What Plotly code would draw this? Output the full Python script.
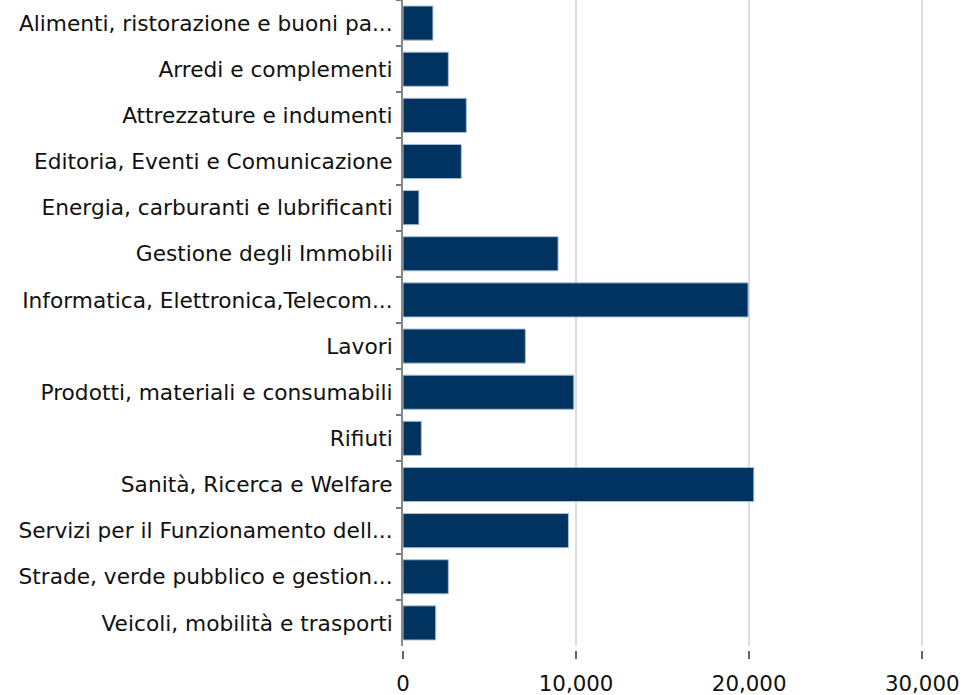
import plotly.graph_objects as go

categories = [
    "Alimenti, ristorazione e buoni pa...",
    "Arredi e complementi",
    "Attrezzature e indumenti",
    "Editoria, Eventi e Comunicazione",
    "Energia, carburanti e lubrificanti",
    "Gestione degli Immobili",
    "Informatica, Elettronica,Telecom...",
    "Lavori",
    "Prodotti, materiali e consumabili",
    "Rifiuti",
    "Sanità, Ricerca e Welfare",
    "Servizi per il Funzionamento dell...",
    "Strade, verde pubblico e gestion...",
    "Veicoli, mobilità e trasporti",
]
values = [1730, 2620, 3660, 3370, 920, 8960, 19940, 7070, 9870, 1060, 20270, 9560, 2620, 1890]
tick_vals = [0, 10000, 20000, 30000]
tick_text = ["0", "10,000", "20,000", "30,000"]

H = 695
fig = go.Figure(go.Bar(
    x=values, y=categories, orientation="h",
    marker=dict(color="#003360", line=dict(color="#a9bfd6", width=1)),
))
fig.update_layout(
    width=965, height=H,
    margin=dict(l=403, r=3, t=0, b=0),
    paper_bgcolor="white", plot_bgcolor="white",
    font=dict(family="DejaVu Sans", size=21.33, color="#111"),
    bargap=0.26, showlegend=False,
)
fig.update_xaxes(
    range=[0, 32300], tickvals=tick_vals, ticktext=tick_text,
    showgrid=True, gridcolor="#dddddd", gridwidth=1.5,
    zeroline=False, ticks="outside", ticklen=8, tickcolor="#666", tickwidth=2,
    tickfont=dict(size=21.33), automargin=False, ticklabelstandoff=6,
    anchor="free", position=(H - 650) / H,
)
fig.update_yaxes(
    autorange="reversed", tickson="boundaries", ticks="outside", ticklen=5,
    tickcolor="#777", tickwidth=2, showline=True, linecolor="#888", linewidth=2,
    showgrid=False, tickfont=dict(size=21.7), automargin=False,
    ticklabelstandoff=4,
    domain=[(H - 646) / H, 1],
)
fig.write_html(
    "out.html",
    config={"displayModeBar": False},
    post_script="document.body.style.margin='0';document.body.style.overflow='hidden';",
)
